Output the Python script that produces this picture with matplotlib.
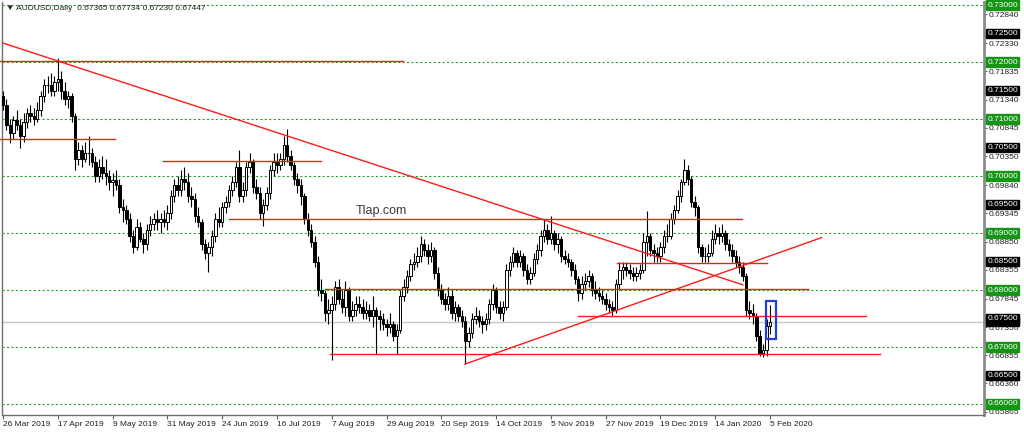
import numpy as np
import matplotlib
matplotlib.use("Agg")
import matplotlib.pyplot as plt
from matplotlib.patches import Rectangle

## Daily AUDUSD candles, 26 Mar 2019 -> 5 Feb 2020 (one bar per weekday)
opens = [0.7140, 0.7125, 0.7090, 0.7075, 0.7098, 0.7090, 0.7070, 0.7095, 0.7110, 0.7105,
         0.7100, 0.7115, 0.7140, 0.7160, 0.7160, 0.7150, 0.7165, 0.7170, 0.7150, 0.7135,
         0.7140, 0.7105, 0.7030, 0.7045, 0.7030, 0.7040, 0.7040, 0.7025, 0.7000, 0.7015,
         0.7005, 0.7000, 0.6990, 0.6993, 0.6985, 0.6945, 0.6940, 0.6925, 0.6895, 0.6875,
         0.6910, 0.6890, 0.6880, 0.6905, 0.6915, 0.6925, 0.6920, 0.6925, 0.6920, 0.6935,
         0.6965, 0.6985, 0.6975, 0.6995, 0.6990, 0.6965, 0.6960, 0.6930, 0.6920, 0.6880,
         0.6865, 0.6875, 0.6895, 0.6925, 0.6920, 0.6945, 0.6955, 0.6975, 0.6990, 0.7015,
         0.6965, 0.6975, 0.7015, 0.7025, 0.6980, 0.6970, 0.6935, 0.6950, 0.6970, 0.7010,
         0.7025, 0.7020, 0.7030, 0.7055, 0.7035, 0.7020, 0.6995, 0.6985, 0.6965, 0.6925,
         0.6905, 0.6885, 0.6850, 0.6800, 0.6795, 0.6760, 0.6765, 0.6775, 0.6805, 0.6785,
         0.6770, 0.6800, 0.6755, 0.6765, 0.6775, 0.6770, 0.6760, 0.6765, 0.6755, 0.6765,
         0.6755, 0.6750, 0.6740, 0.6735, 0.6740, 0.6720, 0.6730, 0.6790, 0.6805, 0.6825,
         0.6845, 0.6850, 0.6860, 0.6880, 0.6870, 0.6860, 0.6870, 0.6830, 0.6800, 0.6785,
         0.6775, 0.6790, 0.6760, 0.6770, 0.6755, 0.6745, 0.6710, 0.6725, 0.6750, 0.6755,
         0.6745, 0.6740, 0.6750, 0.6775, 0.6800, 0.6770, 0.6760, 0.6770, 0.6835, 0.6850,
         0.6865, 0.6850, 0.6860, 0.6835, 0.6820, 0.6830, 0.6855, 0.6870, 0.6895, 0.6905,
         0.6890, 0.6900, 0.6880, 0.6890, 0.6860, 0.6855, 0.6850, 0.6835, 0.6820, 0.6795,
         0.6810, 0.6815, 0.6825, 0.6800, 0.6795, 0.6790, 0.6785, 0.6775, 0.6770, 0.6765,
         0.6810, 0.6835, 0.6840, 0.6835, 0.6830, 0.6825, 0.6830, 0.6835, 0.6885, 0.6895,
         0.6870, 0.6865, 0.6860, 0.6875, 0.6895, 0.6895, 0.6925, 0.6940, 0.6965, 0.6990,
         0.7010, 0.6995, 0.6955, 0.6945, 0.6875, 0.6860, 0.6860, 0.6865, 0.6890, 0.6900,
         0.6895, 0.6900, 0.6880, 0.6870, 0.6860, 0.6850, 0.6840, 0.6825, 0.6765, 0.6760,
         0.6755, 0.6720, 0.6690, 0.6695, 0.67365]
highs = [0.7150, 0.7135, 0.7100, 0.7105, 0.7115, 0.7100, 0.7110, 0.7120, 0.7125, 0.7120,
         0.7130, 0.7150, 0.7170, 0.7175, 0.7180, 0.7175, 0.7207, 0.7185, 0.7165, 0.7150,
         0.7145, 0.7110, 0.7060, 0.7055, 0.7060, 0.7070, 0.7050, 0.7035, 0.7030, 0.7035,
         0.7030, 0.7010, 0.7005, 0.7010, 0.6995, 0.6960, 0.6950, 0.6935, 0.6905, 0.6925,
         0.6920, 0.6900, 0.6915, 0.6930, 0.6935, 0.6940, 0.6935, 0.6940, 0.6950, 0.6975,
         0.6995, 0.7000, 0.7010, 0.7015, 0.7005, 0.6980, 0.6970, 0.6945, 0.6925, 0.6890,
         0.6885, 0.6905, 0.6935, 0.6945, 0.6955, 0.6965, 0.6985, 0.7000, 0.7025, 0.7045,
         0.6990, 0.7025, 0.7040, 0.7030, 0.6995, 0.6980, 0.6960, 0.6980, 0.7020, 0.7040,
         0.7040, 0.7040, 0.7070, 0.7082, 0.7045, 0.7025, 0.7005, 0.6995, 0.6970, 0.6935,
         0.6915, 0.6895, 0.6860, 0.6820, 0.6800, 0.6785, 0.6790, 0.6815, 0.6820, 0.6800,
         0.6815, 0.6805, 0.6780, 0.6790, 0.6790, 0.6785, 0.6780, 0.6775, 0.6790, 0.6770,
         0.6765, 0.6760, 0.6750, 0.6760, 0.6745, 0.6740, 0.6800, 0.6820, 0.6835, 0.6855,
         0.6865, 0.6875, 0.6895, 0.6890, 0.6880, 0.6885, 0.6875, 0.6840, 0.6810, 0.6795,
         0.6805, 0.6800, 0.6780, 0.6775, 0.6765, 0.6755, 0.6735, 0.6760, 0.6770, 0.6765,
         0.6755, 0.6760, 0.6785, 0.6810, 0.6805, 0.6780, 0.6780, 0.6845, 0.6860, 0.6875,
         0.6870, 0.6870, 0.6865, 0.6845, 0.6840, 0.6865, 0.6880, 0.6905, 0.6925, 0.6915,
         0.6930, 0.6905, 0.6900, 0.6895, 0.6870, 0.6865, 0.6855, 0.6845, 0.6825, 0.6825,
         0.6830, 0.6835, 0.6830, 0.6815, 0.6805, 0.6800, 0.6795, 0.6785, 0.6780, 0.6820,
         0.6850, 0.6850, 0.6850, 0.6845, 0.6840, 0.6840, 0.6845, 0.6900, 0.6938, 0.6900,
         0.6880, 0.6875, 0.6885, 0.6905, 0.6915, 0.6935, 0.6950, 0.6975, 0.6995, 0.7030,
         0.7020, 0.7000, 0.6965, 0.6950, 0.6880, 0.6875, 0.6880, 0.6905, 0.6915, 0.6910,
         0.6915, 0.6905, 0.6890, 0.6880, 0.6870, 0.6860, 0.6850, 0.6830, 0.6780, 0.6775,
         0.6760, 0.6730, 0.6705, 0.6750, 0.67734]
lows = [0.7115, 0.7080, 0.7058, 0.7065, 0.7080, 0.7050, 0.7060, 0.7085, 0.7095, 0.7090,
        0.7095, 0.7105, 0.7130, 0.7145, 0.7140, 0.7140, 0.7150, 0.7135, 0.7125, 0.7120,
        0.7095, 0.7010, 0.7020, 0.7015, 0.7025, 0.7020, 0.7015, 0.6990, 0.6990, 0.6995,
        0.6985, 0.6975, 0.6965, 0.6975, 0.6935, 0.6920, 0.6915, 0.6885, 0.6865, 0.6870,
        0.6885, 0.6865, 0.6870, 0.6895, 0.6905, 0.6905, 0.6900, 0.6910, 0.6905, 0.6925,
        0.6955, 0.6965, 0.6965, 0.6975, 0.6955, 0.6945, 0.6920, 0.6910, 0.6870, 0.6855,
        0.6832, 0.6860, 0.6885, 0.6910, 0.6910, 0.6935, 0.6945, 0.6965, 0.6980, 0.6955,
        0.6955, 0.6965, 0.7005, 0.6970, 0.6960, 0.6925, 0.6912, 0.6940, 0.6960, 0.7000,
        0.7005, 0.7010, 0.7020, 0.7025, 0.7010, 0.6985, 0.6970, 0.6950, 0.6915, 0.6895,
        0.6875, 0.6840, 0.6790, 0.6780, 0.6745, 0.6740, 0.6677, 0.6765, 0.6775, 0.6760,
        0.6755, 0.6745, 0.6745, 0.6755, 0.6760, 0.6750, 0.6750, 0.6745, 0.6735, 0.6688,
        0.6730, 0.6730, 0.6720, 0.6725, 0.6710, 0.6688, 0.6725, 0.6780, 0.6795, 0.6815,
        0.6835, 0.6840, 0.6850, 0.6860, 0.6845, 0.6850, 0.6820, 0.6790, 0.6775, 0.6765,
        0.6765, 0.6750, 0.6745, 0.6745, 0.6735, 0.6671, 0.6700, 0.6715, 0.6740, 0.6735,
        0.6725, 0.6730, 0.6740, 0.6765, 0.6760, 0.6750, 0.6745, 0.6765, 0.6825, 0.6840,
        0.6840, 0.6840, 0.6825, 0.6810, 0.6810, 0.6825, 0.6845, 0.6860, 0.6885, 0.6880,
        0.6880, 0.6870, 0.6865, 0.6850, 0.6845, 0.6840, 0.6825, 0.6810, 0.6780, 0.6785,
        0.6800, 0.6805, 0.6790, 0.6785, 0.6780, 0.6775, 0.6765, 0.6760, 0.6755, 0.6760,
        0.6800, 0.6820, 0.6825, 0.6820, 0.6815, 0.6815, 0.6820, 0.6830, 0.6860, 0.6860,
        0.6850, 0.6850, 0.6850, 0.6865, 0.6885, 0.6890, 0.6915, 0.6935, 0.6955, 0.6985,
        0.6985, 0.6945, 0.6930, 0.6865, 0.6850, 0.6850, 0.6850, 0.6860, 0.6880, 0.6880,
        0.6885, 0.6870, 0.6860, 0.6850, 0.6840, 0.6830, 0.6815, 0.6755, 0.6750, 0.6740,
        0.6710, 0.6685, 0.6682, 0.6685, 0.67230]
closes = [0.7125, 0.7090, 0.7075, 0.7098, 0.7090, 0.7070, 0.7095, 0.7110, 0.7105, 0.7100,
          0.7115, 0.7140, 0.7160, 0.7160, 0.7150, 0.7165, 0.7170, 0.7150, 0.7135, 0.7140,
          0.7105, 0.7030, 0.7045, 0.7030, 0.7040, 0.7040, 0.7025, 0.7000, 0.7015, 0.7005,
          0.7000, 0.6990, 0.6993, 0.6985, 0.6945, 0.6940, 0.6925, 0.6895, 0.6875, 0.6910,
          0.6890, 0.6880, 0.6905, 0.6915, 0.6925, 0.6920, 0.6925, 0.6920, 0.6935, 0.6965,
          0.6985, 0.6975, 0.6995, 0.6990, 0.6965, 0.6960, 0.6930, 0.6920, 0.6880, 0.6865,
          0.6875, 0.6895, 0.6925, 0.6920, 0.6945, 0.6955, 0.6975, 0.6990, 0.7015, 0.6965,
          0.6975, 0.7015, 0.7025, 0.6980, 0.6970, 0.6935, 0.6950, 0.6970, 0.7010, 0.7025,
          0.7020, 0.7030, 0.7055, 0.7035, 0.7020, 0.6995, 0.6985, 0.6965, 0.6925, 0.6905,
          0.6885, 0.6850, 0.6800, 0.6795, 0.6760, 0.6765, 0.6775, 0.6805, 0.6785, 0.6770,
          0.6800, 0.6755, 0.6765, 0.6775, 0.6770, 0.6760, 0.6765, 0.6755, 0.6765, 0.6755,
          0.6750, 0.6740, 0.6735, 0.6740, 0.6720, 0.6730, 0.6790, 0.6805, 0.6825, 0.6845,
          0.6850, 0.6860, 0.6880, 0.6870, 0.6860, 0.6870, 0.6830, 0.6800, 0.6785, 0.6775,
          0.6790, 0.6760, 0.6770, 0.6755, 0.6745, 0.6710, 0.6725, 0.6750, 0.6755, 0.6745,
          0.6740, 0.6750, 0.6775, 0.6800, 0.6770, 0.6760, 0.6770, 0.6835, 0.6850, 0.6865,
          0.6850, 0.6860, 0.6835, 0.6820, 0.6830, 0.6855, 0.6870, 0.6895, 0.6905, 0.6890,
          0.6900, 0.6880, 0.6890, 0.6860, 0.6855, 0.6850, 0.6835, 0.6820, 0.6795, 0.6810,
          0.6815, 0.6825, 0.6800, 0.6795, 0.6790, 0.6785, 0.6775, 0.6770, 0.6765, 0.6810,
          0.6835, 0.6840, 0.6835, 0.6830, 0.6825, 0.6830, 0.6835, 0.6885, 0.6895, 0.6870,
          0.6865, 0.6860, 0.6875, 0.6895, 0.6895, 0.6925, 0.6940, 0.6965, 0.6990, 0.7010,
          0.6995, 0.6955, 0.6945, 0.6875, 0.6860, 0.6860, 0.6865, 0.6890, 0.6900, 0.6895,
          0.6900, 0.6880, 0.6870, 0.6860, 0.6850, 0.6840, 0.6825, 0.6765, 0.6760, 0.6755,
          0.6720, 0.6690, 0.6695, 0.67365, 0.67447]

date_ticks = [0, 16, 32, 48, 64, 80, 96, 112, 128, 144, 160, 176, 192, 208, 224]
date_labels = ["26 Mar 2019", "17 Apr 2019", "9 May 2019", "31 May 2019", "24 Jun 2019",
               "16 Jul 2019", "7 Aug 2019", "29 Aug 2019", "20 Sep 2019", "14 Oct 2019",
               "5 Nov 2019", "27 Nov 2019", "19 Dec 2019", "14 Jan 2020", "5 Feb 2020"]

grid_levels = [0.73, 0.72, 0.71, 0.70, 0.69, 0.68, 0.67, 0.66]
half_levels = [0.725, 0.715, 0.705, 0.695, 0.685, 0.675, 0.665]
scale_levels = [0.72840, 0.72330, 0.71835, 0.71340, 0.70845, 0.70350, 0.69840, 0.69345,
                0.68850, 0.68355, 0.67845, 0.67350, 0.66855, 0.66360, 0.65865]
last_price = 0.67447

# horizontal support / resistance: price, first bar, last bar
sr_price = [0.7201, 0.7065, 0.7027, 0.6924, 0.6802, 0.6848, 0.6754, 0.6687]
sr_start = [-1, -1, 46.7, 66.0, 94.0, 179.3, 167.9, 95.5]
sr_end = [116.8, 32.7, 92.9, 215.8, 235.1, 223.1, 252.0, 256.1]
# trend lines: (bar, price) end points
down_line = ([-0.9, 216.1], [0.7235, 0.6809])
up_line = ([134.9, 239.1], [0.6670, 0.6892])
box_bars = [222.8, 225.7]
box_prices = [0.6714, 0.6781]

FONT = ["Liberation Sans", "DejaVu Sans"]
GREEN = "#159415"

fig = plt.figure(figsize=(10.24, 4.33), dpi=100)
ax = fig.add_axes([2 / 1024, 18 / 433, 982 / 1024, 413 / 433])

o = np.array(opens)
h = np.array(highs)
l = np.array(lows)
c = np.array(closes)
idx = np.arange(len(c))
up = c >= o

ax.vlines(idx, l, h, color="black", lw=0.8, zorder=3)
ax.bar(idx[up], c[up] - o[up], bottom=o[up], width=0.72, facecolor="white",
       edgecolor="black", linewidth=0.7, zorder=4)
ax.bar(idx[~up], o[~up] - c[~up], bottom=c[~up], width=0.72, facecolor="black",
       edgecolor="black", linewidth=0.7, zorder=4)

for lv in grid_levels:
    ax.axhline(lv, color="#2aa12a", lw=0.8, ls=(0, (2, 2)), zorder=1)
ax.axhline(last_price, color="#c8c8c8", lw=1, zorder=1)

for p, s, e in zip(sr_price, sr_start, sr_end):
    ax.plot([s, e], [p, p], color="#ff1a1a", lw=1, zorder=5, clip_on=False)
ax.plot(down_line[0], down_line[1], color="#ff1a1a", lw=1, zorder=5)
ax.plot(up_line[0], up_line[1], color="#ff1a1a", lw=1, zorder=5)
ax.add_patch(Rectangle((box_bars[0], box_prices[0]), box_bars[1] - box_bars[0],
                       box_prices[1] - box_prices[0], fill=False, edgecolor="#1f3fd6",
                       lw=1.6, zorder=6))

ax.text(110.4, 0.6939, "Tlap.com", ha="center", va="center", fontsize=9,
        color="#3a3a3a", family=FONT, zorder=7)
ax.text(0.004, 0.993, "\u25bc AUDUSD,Daily  0.67365 0.67734 0.67230 0.67447",
        transform=ax.transAxes, ha="left", va="top", fontsize=6, color="#202020",
        family=FONT)

ax.set_xlim(-0.3, 286.5)
ax.set_ylim(0.65807, 0.73053)

# right price scale
ax.yaxis.tick_right()
ax.set_yticks(scale_levels)
ax.set_yticklabels(["%.5f" % v for v in scale_levels], fontsize=6, family=FONT,
                   color="#202020")
ax.tick_params(axis="y", length=2, pad=1, color="#606060")
tr = ax.get_yaxis_transform()
for lv in grid_levels:
    ax.text(1.0035, lv, "%.5f" % lv, transform=tr, ha="left", va="center", fontsize=6,
            family=FONT, color="white", clip_on=False,
            bbox=dict(boxstyle="square,pad=0.15", facecolor=GREEN, edgecolor=GREEN))
ax.text(1.0035, last_price, "%.5f" % last_price, transform=tr, ha="left", va="center",
        fontsize=6, family=FONT, color="white", clip_on=False,
        bbox=dict(boxstyle="square,pad=0.15", facecolor="black", edgecolor="black"))
for lv in half_levels:
    ax.text(1.0035, lv, "%.5f" % lv, transform=tr, ha="left", va="center", fontsize=6,
            family=FONT, color="white", clip_on=False,
            bbox=dict(boxstyle="square,pad=0.15", facecolor="black", edgecolor="black"))

# bottom time scale
ax.set_xticks(date_ticks)
ax.set_xticklabels(date_labels, fontsize=6, family=FONT, color="#202020", ha="left")
ax.tick_params(axis="x", length=3, pad=1, color="#606060")

for side in ["left", "bottom"]:
    ax.spines[side].set_color("#707070")
    ax.spines[side].set_linewidth(1)
ax.spines["right"].set_color("#8a8a8a")
ax.spines["right"].set_linewidth(2)
ax.spines["top"].set_visible(False)

fig.savefig("out.png", dpi=100)
